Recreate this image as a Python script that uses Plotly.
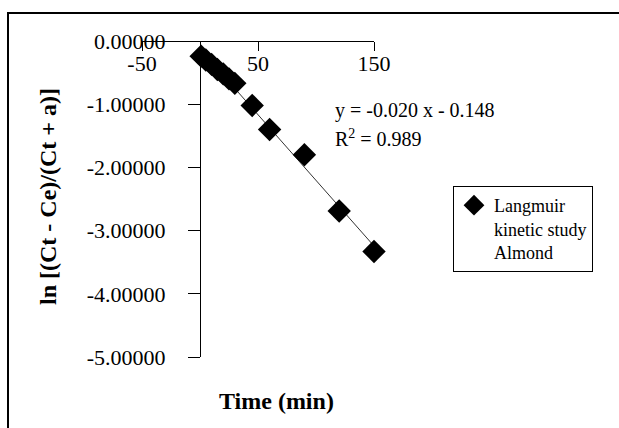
import numpy as np
import plotly.graph_objects as go

# ---- data ----
time_min = [1, 5, 10, 15, 20, 25, 30, 45, 60, 90, 120, 150]
ln_ratio = [-0.24, -0.30, -0.37, -0.45, -0.52, -0.60, -0.67, -1.02, -1.40, -1.80, -2.69, -3.33]

x_tick_vals = [-50, 50, 150]
x_tick_text = ["-50", "50", "150"]
y_tick_vals = [0, -1, -2, -3, -4, -5]
y_tick_text = ["0.00000", "-1.00000", "-2.00000", "-3.00000", "-4.00000", "-5.00000"]

series_name = "Langmuir<br>kinetic study<br>Almond"
equation_text = "y = -0.020 x - 0.148"
r2_text = "R<sup>2</sup> = 0.989"

# ---- layout geometry ----
W, H = 619, 428
L, R, T, B = 142, 245, 41, 71
PW, PH = W - L - R, H - T - B


def px(xp):
    return (xp - L) / PW


def py(yp):
    return (H - B - yp) / PH


FONT = "Liberation Serif, Times New Roman, serif"

# trend line from a least-squares fit of the data
slope, intercept = np.polyfit(time_min, ln_ratio, 1)
trend_x = [time_min[0], time_min[-1]]
trend_y = [slope * v + intercept for v in trend_x]

fig = go.Figure()
fig.add_trace(go.Scatter(
    x=trend_x, y=trend_y, mode="lines", cliponaxis=False,
    line=dict(color="#333333", width=1), showlegend=False, hoverinfo="skip"))
fig.add_trace(go.Scatter(
    x=time_min, y=ln_ratio, mode="markers", name=series_name, cliponaxis=False,
    marker=dict(symbol="diamond", size=18, color="black", line=dict(width=0))))

fig.update_layout(
    width=W, height=H,
    margin=dict(l=L, r=R, t=T, b=B, pad=0),
    paper_bgcolor="white", plot_bgcolor="white",
    font=dict(family=FONT, color="black", size=22),
    xaxis=dict(
        range=[-50, 150], anchor="free", position=1, side="bottom",
        showgrid=False, zeroline=False, showline=True, linecolor="black", linewidth=1,
        ticks="outside", ticklen=9, tickcolor="black",
        tickvals=x_tick_vals, ticktext=x_tick_text,
        tickfont=dict(family=FONT, size=22, color="black"),
        ticklabelstandoff=-6,
    ),
    yaxis=dict(
        range=[-5, 0], anchor="free", position=0.25, side="left",
        showgrid=False, zeroline=False, showline=True, linecolor="black", linewidth=1,
        ticks="outside", ticklen=12, tickcolor="black",
        tickvals=y_tick_vals, ticktext=y_tick_text,
        tickfont=dict(family=FONT, size=22, color="black"),
        ticklabelstandoff=18,
    ),
    legend=dict(
        x=px(453), y=py(186), xanchor="left", yanchor="top",
        bordercolor="black", borderwidth=1, bgcolor="white",
        font=dict(family=FONT, size=18, color="black"),
        itemwidth=30, tracegroupgap=0, valign="top",
    ),
    showlegend=True,
)

fig.add_annotation(
    text=equation_text, xref="paper", yref="paper", x=px(333), y=py(110),
    xanchor="left", yanchor="middle", showarrow=False,
    font=dict(family=FONT, size=20, color="black"))
fig.add_annotation(
    text=r2_text, xref="paper", yref="paper", x=px(333), y=py(138),
    xanchor="left", yanchor="middle", showarrow=False,
    font=dict(family=FONT, size=20, color="black"))
fig.add_annotation(
    text="<b>Time (min)</b>", xref="paper", yref="paper", x=px(276), y=py(401),
    xanchor="center", yanchor="middle", showarrow=False,
    font=dict(family=FONT, size=24, color="black"))
fig.add_annotation(
    text="<b>ln [(Ct - Ce)/(Ct + a)]</b>", xref="paper", yref="paper", x=px(48), y=py(197),
    xanchor="center", yanchor="middle", showarrow=False, textangle=-90,
    font=dict(family=FONT, size=24, color="black"))

# outer chart frame
fig.add_shape(type="rect", xref="paper", yref="paper",
              x0=px(8), x1=px(640), y0=py(450), y1=py(13),
              line=dict(color="black", width=2), fillcolor="rgba(0,0,0,0)", layer="below")

fig.write_html("out.html")
